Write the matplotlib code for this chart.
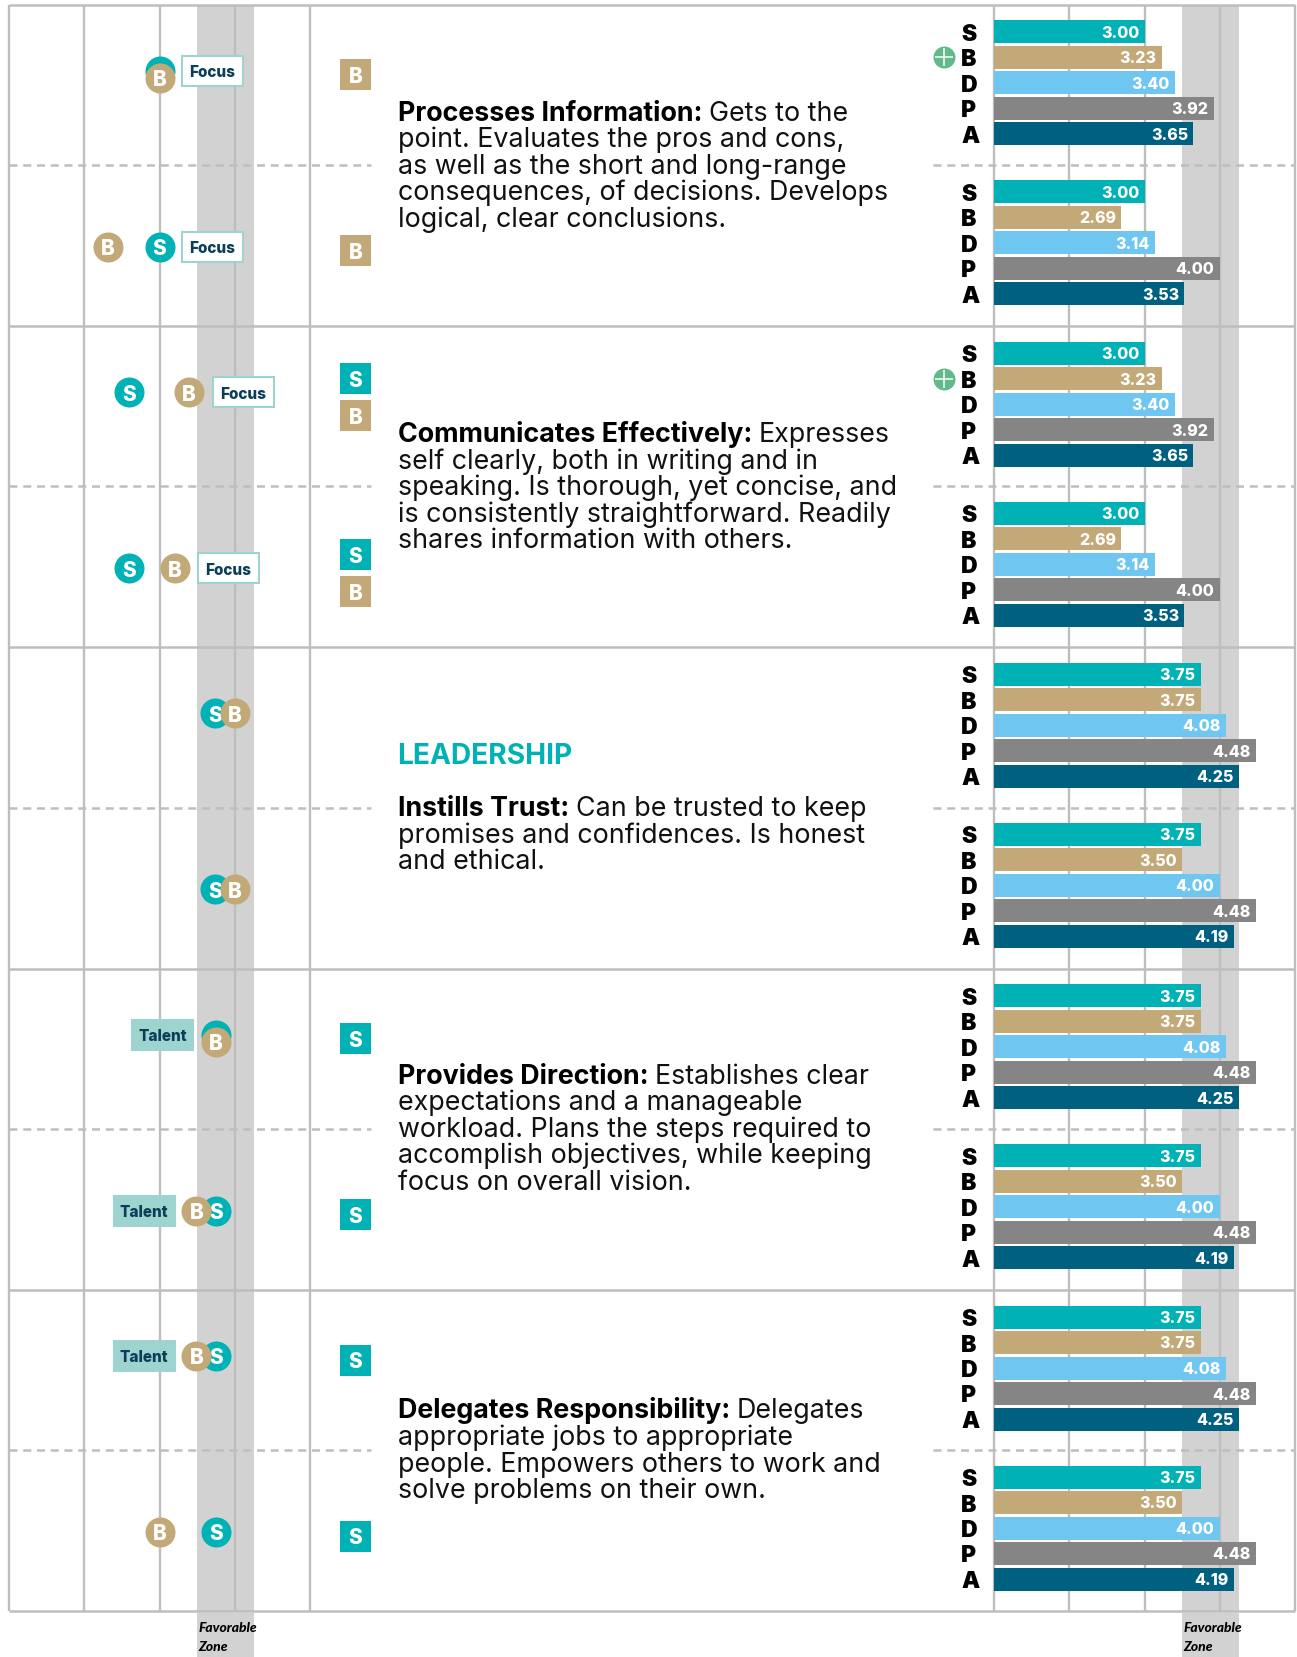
import matplotlib
matplotlib.use('Agg')
import matplotlib.pyplot as plt
from matplotlib.patches import Rectangle

W, H = 1297, 1658
FONT = 'Inter'
plt.rcParams['font.family'] = [FONT, 'DejaVu Sans']

# colours
TEAL = '#00B2B5'
TAN = '#C3A977'
BLUE = '#6FC7F1'
GREY = '#858585'
DARK = '#006080'
ZONE = '#D2D2D2'
LINE = '#BEBEBE'

# bar data, one entry per half row
letters = ['S', 'B', 'D', 'P', 'A']
bar_colors = [TEAL, TAN, BLUE, GREY, DARK]
row1_top = [3.00, 3.23, 3.40, 3.92, 3.65]
row1_bot = [3.00, 2.69, 3.14, 4.00, 3.53]
row2_top = [3.00, 3.23, 3.40, 3.92, 3.65]
row2_bot = [3.00, 2.69, 3.14, 4.00, 3.53]
row3_top = [3.75, 3.75, 4.08, 4.48, 4.25]
row3_bot = [3.75, 3.50, 4.00, 4.48, 4.19]
row4_top = [3.75, 3.75, 4.08, 4.48, 4.25]
row4_bot = [3.75, 3.50, 4.00, 4.48, 4.19]
row5_top = [3.75, 3.75, 4.08, 4.48, 4.25]
row5_bot = [3.75, 3.50, 4.00, 4.48, 4.19]
all_bars = [(row1_top, row1_bot), (row2_top, row2_bot), (row3_top, row3_bot),
            (row4_top, row4_bot), (row5_top, row5_bot)]

# circles on the left scale: S value, B value per half row
s_circles = [(3.00, 3.00), (2.60, 2.60), (3.74, 3.74), (3.75, 3.75), (3.75, 3.75)]
b_circles = [(3.00, 2.31), (3.39, 3.20), (4.00, 4.00), (3.75, 3.49), (3.49, 3.00)]

# row, half, label, left edge on the left scale
tags = [(0, 0, 'Focus', 3.30), (0, 1, 'Focus', 3.30), (1, 0, 'Focus', 3.71),
        (1, 1, 'Focus', 3.51), (3, 0, 'Talent', 2.64), (3, 1, 'Talent', 2.39),
        (4, 0, 'Talent', 2.39)]

# squares between the panels: row, half, letters
squares = [(0, 0, 'B'), (0, 1, 'B'), (1, 0, 'SB'), (1, 1, 'SB'),
           (3, 0, 'S'), (3, 1, 'S'), (4, 0, 'S'), (4, 1, 'S')]

plus_marks = [(0, 0), (1, 0)]

texts = [
    ('Processes Information:', [' Gets to the', 'point. Evaluates the pros and cons,',
     'as well as the short and long-range', 'consequences, of decisions. Develops',
     'logical, clear conclusions.'], 111),
    ('Communicates Effectively:', [' Expresses', 'self clearly, both in writing and in',
     'speaking. Is thorough, yet concise, and', 'is consistently straightforward. Readily',
     'shares information with others.'], 432.5),
    ('Instills Trust:', [' Can be trusted to keep', 'promises and confidences. Is honest',
     'and ethical.'], 806.5),
    ('Provides Direction:', [' Establishes clear', 'expectations and a manageable',
     'workload. Plans the steps required to', 'accomplish objectives, while keeping',
     'focus on overall vision.'], 1074),
    ('Delegates Responsibility:', [' Delegates', 'appropriate jobs to appropriate',
     'people. Empowers others to work and', 'solve problems on their own.'], 1409),
]

ROW_H = 321.3
ROW0 = 5.8
BOTTOM = ROW0 + 5 * ROW_H
HALF_OFF = [0, 160]


def make_axes(fig, x0, x1):
    a = fig.add_axes([x0 / W, 0, (x1 - x0) / W, 1])
    a.set_xlim(1, 5)
    a.set_ylim(H, 0)
    a.axis('off')
    a.patch.set_alpha(0)
    return a


fig = plt.figure(figsize=(W / 100, H / 100), dpi=100, facecolor='white')
ax_l = make_axes(fig, 9, 310)
ax_r = make_axes(fig, 994, 1295)
over = fig.add_axes([0, 0, 1, 1])
over.set_xlim(0, W)
over.set_ylim(H, 0)
over.axis('off')
over.patch.set_alpha(0)

for a in (ax_l, ax_r):
    a.add_patch(Rectangle((3.5, ROW0), 0.75, BOTTOM - ROW0, color=ZONE, lw=0, zorder=1))
    a.add_patch(Rectangle((3.5, BOTTOM + 2), 0.75, H - BOTTOM, color=ZONE, lw=0, zorder=1))
    a.vlines([1, 2, 3, 4, 5], ROW0, BOTTOM, color=LINE, lw=1.7, zorder=2, clip_on=False)
    a.text(3.52, BOTTOM + 20, 'Favorable', fontsize=10, fontweight='black', style='italic',
           family=['Lato', 'DejaVu Sans'], va='baseline', zorder=6)
    a.text(3.52, BOTTOM + 39, 'Zone', fontsize=10, fontweight='black', style='italic',
           family=['Lato', 'DejaVu Sans'], va='baseline', zorder=6)

# frame, row lines and dashes
for i in range(6):
    over.hlines(ROW0 + i * ROW_H, 9, 1295, color=LINE, lw=1.8, zorder=2)
for i in range(5):
    yd = ROW0 + i * ROW_H + 160.3
    over.plot([9, 371], [yd, yd], color=LINE, lw=1.8, dashes=(3.2, 2.3), zorder=2)
    over.plot([933, 1295], [yd, yd], color=LINE, lw=1.8, dashes=(3.2, 2.3), zorder=2)

# right bars
for r, pair in enumerate(all_bars):
    for h, vals in enumerate(pair):
        for i, v in enumerate(vals):
            yc = ROW0 + r * ROW_H + 27 + HALF_OFF[h] + i * 25.5
            ax_r.barh(yc, v - 1, left=1, height=23, color=bar_colors[i], zorder=3)
            ax_r.text(v - 0.07, yc + 5, '%.2f' % v, color='white', fontsize=11.5,
                      fontweight=800, ha='right', va='baseline', zorder=4)
            over.text(961, yc + 8, letters[i], color='black', fontsize=16.5, fontweight='black',
                      ha='left', va='baseline', zorder=4)

for r, h in plus_marks:
    yc = ROW0 + r * ROW_H + 27 + HALF_OFF[h] + 25.5
    over.scatter([944.3], [yc], s=250, color='#62B98A', lw=0, zorder=5)
    over.scatter([944.3], [yc], s=150, marker='+', color='white', lw=1.1, zorder=6)


# circles
def circle(x, y, letter, color, z):
    ax_l.scatter([x], [y], s=467, color=color, lw=0, zorder=z, clip_on=False)
    if letter:
        ax_l.text(x, y + 7.5, letter, color='white', fontsize=15, fontweight=800,
                  ha='center', va='baseline', zorder=z)


for r in range(5):
    for h in range(2):
        sv, bv = s_circles[r][h], b_circles[r][h]
        y = ROW0 + r * ROW_H + 66 + HALF_OFF[h] + (16 if h else 0)
        same = abs(sv - bv) < 0.02
        # the B circle hides the S letter when both sit on one value
        circle(sv, y, '' if same else 'S', TEAL, 4)
        circle(bv, y + (7 if same else 0), 'B', TAN, 5)

# Focus / Talent tags
for r, h, label, x0 in tags:
    y = ROW0 + r * ROW_H + 66 + HALF_OFF[h] + (16 if h else 0)
    width = 61 / 75.25
    talent = label == 'Talent'
    ax_l.add_patch(Rectangle((x0, y - 15), width, 30, lw=1.5, zorder=6,
                             facecolor='#9DD4D0' if talent else 'white',
                             edgecolor='#9DD4D0'))
    ax_l.text(x0 + width / 2, y + 5.5, label, color='#0B3F57', fontsize=11, fontweight=800,
              ha='center', va='baseline', zorder=7)

# squares
SQ_OFF = {1: [70], 2: [52, 89]}
for r, h, chars in squares:
    offs = SQ_OFF[len(chars)]
    for ch, off in zip(chars, offs):
        y = ROW0 + r * ROW_H + off + (176 if h else 0)
        over.add_patch(Rectangle((340, y - 15.5), 31, 31, lw=0, zorder=4,
                                 color=TEAL if ch == 'S' else TAN))
        over.text(355.5, y + 7.5, ch, color='white', fontsize=15, fontweight=800,
                  ha='center', va='baseline', zorder=5)

# description text
renderer = fig.canvas.get_renderer()
TX = 397.5
BODY = 19.3
PITCH = 26.6
BASE = 9.5
for title, lines, y0 in texts:
    t = over.text(TX, y0 + BASE, title, fontsize=BODY, fontweight='bold', color='black',
                  ha='left', va='baseline', zorder=5)
    bb = t.get_window_extent(renderer)
    over.text(bb.x1 + 7, y0 + BASE, lines[0].strip(), fontsize=BODY, color='#111111',
              ha='left', va='baseline', zorder=5)
    for k, line in enumerate(lines[1:], 1):
        over.text(TX, y0 + BASE + k * PITCH, line, fontsize=BODY, color='#111111', ha='left',
                  va='baseline', zorder=5)

over.text(TX, 754 + 10, 'LEADERSHIP', fontsize=20.2, fontweight='bold', color=TEAL, ha='left',
          va='baseline', zorder=5)

fig.savefig('out.png', dpi=100)
